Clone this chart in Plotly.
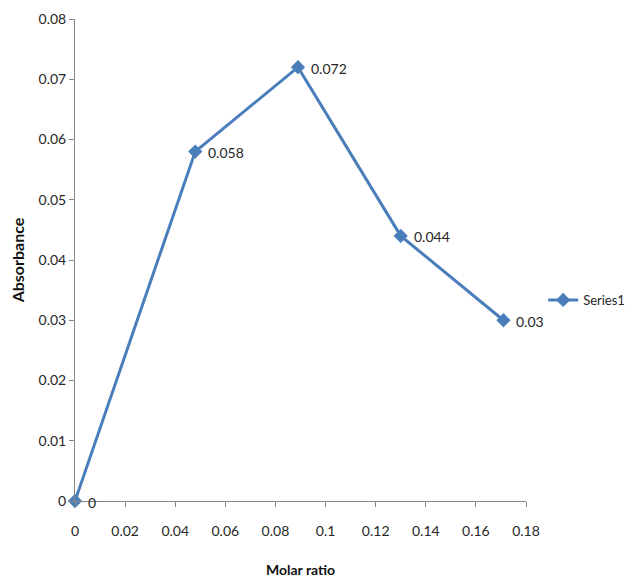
import plotly.graph_objects as go

molar_ratio = [0, 0.048, 0.089, 0.13, 0.171]
absorbance = [0, 0.058, 0.072, 0.044, 0.03]
point_labels = ["0", "0.058", "0.072", "0.044", "0.03"]
x_ticks = [0, 0.02, 0.04, 0.06, 0.08, 0.1, 0.12, 0.14, 0.16, 0.18]
x_tick_text = ["0", "0.02", "0.04", "0.06", "0.08", "0.1", "0.12", "0.14", "0.16", "0.18"]
y_ticks = [0, 0.01, 0.02, 0.03, 0.04, 0.05, 0.06, 0.07, 0.08]
y_tick_text = ["0", "0.01", "0.02", "0.03", "0.04", "0.05", "0.06", "0.07", "0.08"]

FONT = "Lato, Open Sans, sans-serif"
BLUE = "#4A7EBB"
AXIS = "#868686"
TXT = "#262626"

fig = go.Figure()
fig.add_trace(go.Scatter(
    x=molar_ratio, y=absorbance, name="Series1",
    mode="lines+markers",
    line=dict(color=BLUE, width=3),
    marker=dict(symbol="diamond", size=11, color=BLUE),
    cliponaxis=False,
))

for xv, yv, lab in zip(molar_ratio, absorbance, point_labels):
    fig.add_annotation(x=xv, y=yv, text=lab, showarrow=False,
                       xanchor="left", yanchor="middle", xshift=11, yshift=-1,
                       font=dict(family=FONT, size=14, color=TXT))

fig.update_layout(
    width=628, height=570,
    margin=dict(l=67, r=110, t=11, b=77, autoexpand=False),
    paper_bgcolor="white", plot_bgcolor="white",
    font=dict(family=FONT, size=14, color=TXT),
    showlegend=True,
    legend=dict(x=1.038, y=0.417, xanchor="left", yanchor="middle",
                font=dict(family=FONT, size=13, color=TXT),
                itemwidth=30,
                bgcolor="rgba(0,0,0,0)"),
    xaxis=dict(range=[0, 0.18], tickmode="array", tickvals=x_ticks, ticktext=x_tick_text,
               showgrid=False, zeroline=False, showline=True, linecolor=AXIS, linewidth=1,
               ticks="outside", ticklen=5, tickcolor=AXIS, ticklabelstandoff=12,
               automargin=False,
               title=dict(text="<b>Molar ratio</b>", standoff=29,
                          font=dict(family=FONT, size=14, color="#111"))),
    yaxis=dict(range=[0, 0.08], tickmode="array", tickvals=y_ticks, ticktext=y_tick_text,
               showgrid=False, zeroline=False, showline=True, linecolor=AXIS, linewidth=1,
               ticks="outside", ticklen=5, tickcolor=AXIS, ticklabelstandoff=0,
               automargin=False,
               title=dict(text="<b>Absorbance</b>", standoff=10,
                          font=dict(family=FONT, size=16, color="#111"))),
)

fig.write_html("out.html")
